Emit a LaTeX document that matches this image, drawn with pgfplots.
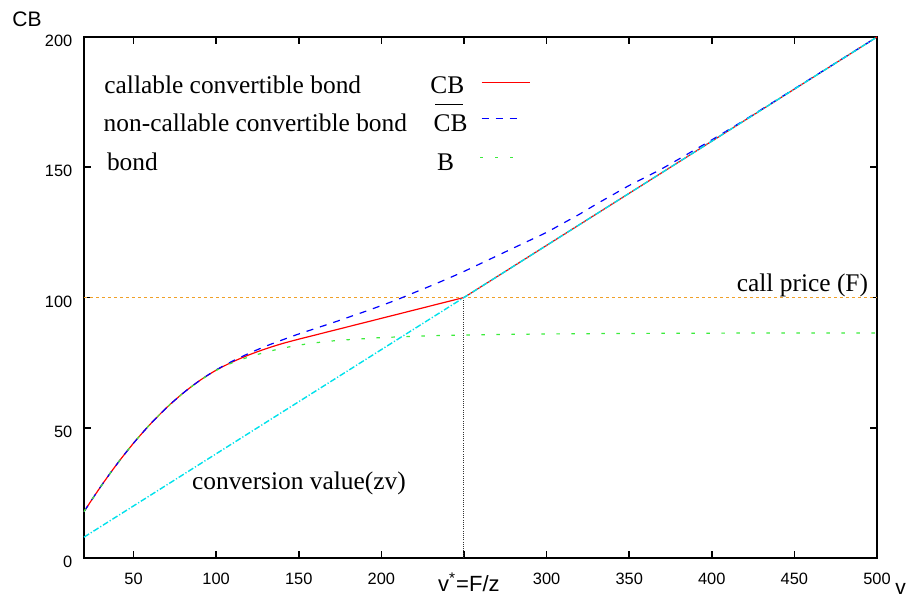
\documentclass[border=0pt]{standalone}
\usepackage{fontspec}
\setmainfont{Liberation Serif}
\newfontfamily\sans{Liberation Sans}
\usepackage{pgfplots}
\pgfplotsset{compat=1.18}
\definecolor{cbred}{RGB}{255,0,0}
\definecolor{cbblue}{RGB}{0,0,255}
\definecolor{cbgreen}{RGB}{60,235,60}
\definecolor{cbcyan}{RGB}{0,225,235}
\definecolor{cporange}{RGB}{240,160,40}
\newcommand{\annot}{\fontsize{12.7}{14}\selectfont}
\tikzset{
  redline/.style={cbred, line width=0.6pt},
  blueline/.style={cbblue, line width=0.6pt, dash pattern=on 3.5pt off 3.5pt},
  greenline/.style={cbgreen, line width=0.6pt, dash pattern=on 1.7pt off 5.8pt},
  cyanline/.style={cbcyan, line width=0.7pt, dash pattern=on 3pt off 1pt on 0.6pt off 1pt},
}
\begin{document}
\begin{tikzpicture}
\begin{axis}[
  scale only axis, width=396.5pt, height=260.5pt,
  xmin=20, xmax=500, ymin=0, ymax=200,
  xtick={50,100,...,500},
  xticklabels={50,100,150,200,,300,350,400,450,500},
  ytick={0,50,...,200},
  tick align=inside,
  major tick length=3.5pt,
  axis line style={line width=1pt},
  major tick style={black, line width=0.8pt},
  ticklabel style={font=\sans\fontsize{8.2}{9}\selectfont},
  /pgf/number format/assume math mode=true,
  xticklabel style={yshift=-4pt},
  yticklabel style={xshift=-2.3pt, yshift=-2pt},
  clip=false,
]
% call price and v*
\addplot[cporange, line width=0.4pt, dash pattern=on 1.5pt off 1.5pt] coordinates {(20,100) (500,100)};
\addplot[black!80, line width=0.5pt, dash pattern=on 0.5pt off 0.6pt] coordinates {(250,0) (250,100)};

% callable convertible bond
\addplot[redline, smooth] coordinates {
 (20,17.8) (30,27.3) (40,36.1) (50,44.1) (60,51.3) (70,57.7) (80,63.3)
 (90,68.1) (100,72.1) (110,75.3) (120,78.0) (130,80.3) (140,82.3)
 (150,84.0) (160,85.6) (170,87.2) (180,88.8) (190,90.4) (200,92.0)
 (210,93.6) (220,95.2) (230,96.8) (240,98.4) (250,100)
};
\addplot[redline] coordinates {(250,100) (300,120) (350,140) (400,160) (450,180) (500,200)};
% non-callable convertible bond
\addplot[blueline, smooth] coordinates {
 (20,17.8) (30,27.3) (40,36.1) (50,44.1) (60,51.3) (70,57.7) (80,63.3)
 (90,68.1) (100,72.2) (110,75.6) (120,78.6) (130,81.3) (140,83.7)
 (150,86.0) (160,88.1) (170,90.2) (180,92.4) (190,94.6) (200,96.9)
 (210,99.3) (220,101.9) (230,104.5) (240,107.2) (250,110.0) (260,113.0)
 (270,116.0) (280,119.0) (290,122.0) (300,125.0) (310,128.5) (320,132.0)
 (330,135.8) (340,139.4) (350,143.0) (360,146.2) (370,149.5) (380,153.1)
 (390,156.8) (400,160.5) (420,168.2) (450,180.1) (500,200)
};
% bond
\addplot[greenline, smooth] coordinates {
 (20,17.8) (30,27.3) (40,36.1) (50,44.1) (60,51.3) (70,57.7) (80,63.3)
 (90,68.0) (100,72.0) (110,75.0) (120,77.2) (130,79.0) (140,80.5)
 (150,81.7) (160,82.6) (170,83.3) (180,83.8) (190,84.2) (200,84.6)
 (225,85.2) (250,85.6) (300,86.0) (350,86.2) (400,86.3) (450,86.4) (500,86.4)
};
% conversion value
\addplot[cyanline] coordinates {(20,8) (500,200)};

% legend
\begin{scope}[every node/.style={inner sep=0pt, font=\annot}]
\node[anchor=base west] at (axis cs:32.1,178.4) {callable convertible bond};
\node[anchor=base west] at (axis cs:229.4,178.4) {CB};
\node[anchor=base west] at (axis cs:31.7,163.6) {non-callable convertible bond};
\node[anchor=base west] at (axis cs:231.4,163.6) {CB};
\node[anchor=base west] at (axis cs:33.7,148.9) {bond};
\node[anchor=base west] at (axis cs:233.5,148.9) {B};
\node[anchor=base east] at (axis cs:494.8,102.2) {call price (F)};
\node[anchor=base west] at (axis cs:85.2,26.4) {conversion value(zv)};
\end{scope}
\draw[black, line width=0.5pt] (axis cs:232.5,173.9) -- (axis cs:249.2,173.9);
\draw[redline] (axis cs:260.7,182.5) -- (axis cs:289.9,182.5);
\draw[blueline] (axis cs:260.7,168.8) -- (axis cs:283.9,168.8);
\draw[greenline] (axis cs:259.7,153.8) -- (axis cs:283.9,153.8);

% axis labels
\node[anchor=base west, inner sep=0pt, font=\sans\fontsize{10.5}{12}\selectfont] at (axis cs:-23.6,204) {CB};
\node[anchor=base, inner sep=0pt, font=\sans\fontsize{11}{12}\selectfont] at (axis cs:253,-12.7) {v\textsuperscript{*}=F/z};
\node[anchor=base west, inner sep=0pt, font=\sans\fontsize{10.5}{12}\selectfont] at (axis cs:510.9,-14.2) {v};

% page frame
\path (axis cs:-30.84,-15.36) rectangle (axis cs:518.76,214.2);
\end{axis}
\end{tikzpicture}
\end{document}
